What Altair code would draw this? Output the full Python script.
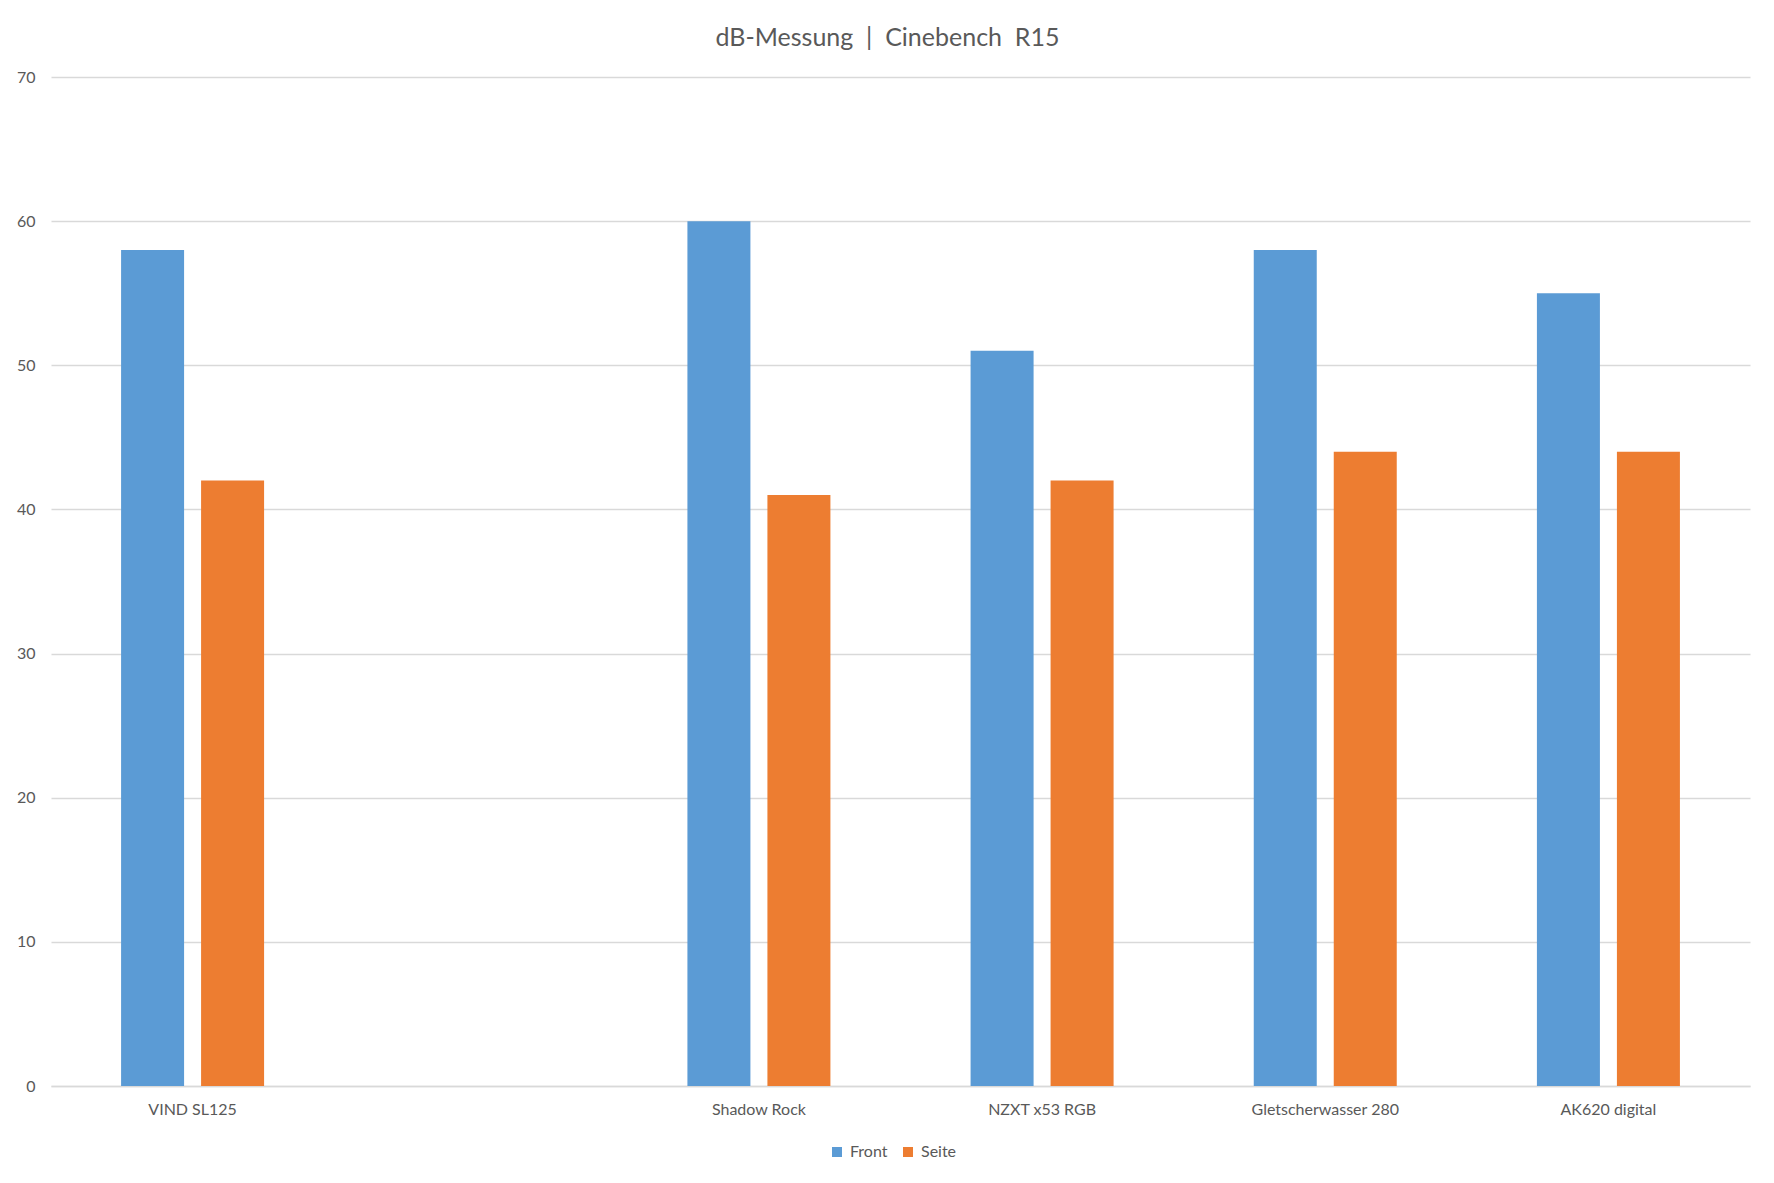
import altair as alt
import pandas as pd

categories = ["VIND SL125", " ", "Shadow Rock", "NZXT x53 RGB", "Gletscherwasser 280", "AK620 digital"]
series = ["Front", "Seite"]
front = [58, None, 60, 51, 58, 55]
seite = [42, None, 41, 42, 44, 44]
y_ticks = [0, 10, 20, 30, 40, 50, 60, 70]
colors = ["#5B9BD5", "#ED7D31"]
title_text = "dB-Messung \u00a0|\u00a0 Cinebench \u00a0R15"

rows = []
for c, f, s in zip(categories, front, seite):
    if f is not None:
        rows.append({"Kühler": c, "Serie": "Front", "dB": f})
    if s is not None:
        rows.append({"Kühler": c, "Serie": "Seite", "dB": s})
df = pd.DataFrame(rows)

FONT = "Lato"
TXT = "#595959"
GRID = "#d9d9d9"

chart = alt.Chart(df).mark_bar().encode(
    x=alt.X(
        "Kühler:N",
        sort=categories,
        scale=alt.Scale(domain=categories, paddingInner=0.495, paddingOuter=0.2475),
        axis=alt.Axis(
            title=None, labelAngle=0, ticks=False, tickSize=0, labelPadding=15,
            domainColor=GRID, domainWidth=1.5, labelFontSize=16, labelColor=TXT,
            labelFont=FONT,
        ),
    ),
    xOffset=alt.XOffset(
        "Serie:N",
        sort=series,
        scale=alt.Scale(domain=series, paddingInner=0.2125, paddingOuter=0),
    ),
    y=alt.Y(
        "dB:Q",
        scale=alt.Scale(domain=[0, 70], nice=False),
        axis=alt.Axis(
            title=None, values=y_ticks, ticks=False, tickSize=0, domain=False,
            gridColor=GRID, gridWidth=1.3, labelPadding=16, labelFontSize=16,
            labelColor=TXT, labelFont=FONT,
        ),
    ),
    color=alt.Color(
        "Serie:N",
        sort=series,
        scale=alt.Scale(domain=series, range=colors),
        legend=alt.Legend(
            title=None, orient="none", direction="horizontal",
            legendX=778, legendY=1067, symbolType="square", symbolSize=100,
            symbolStrokeWidth=0, labelFontSize=16, labelColor=TXT, labelFont=FONT,
            columnPadding=12, labelOffset=5,
        ),
    ),
).properties(
    width=1699,
    height=1009,
    autosize=alt.AutoSizeParams(type="none"),
    padding={"left": 43, "top": 69, "right": 8, "bottom": 80},
    title=alt.TitleParams(
        text=title_text, fontSize=25, font=FONT, fontWeight="normal",
        color=TXT, anchor="middle", offset=18, dx=-13,
    ),
).configure(
    background="white",
    view=alt.ViewConfig(stroke=None),
)

chart.save("out.html", embed_options={"renderer": "svg", "actions": False})
